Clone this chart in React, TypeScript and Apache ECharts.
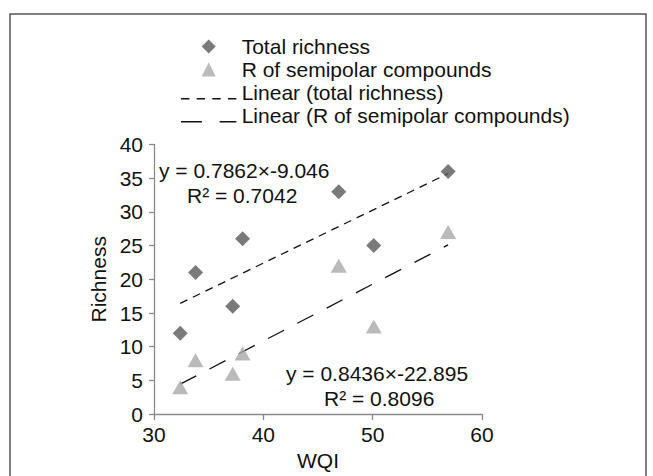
import React, { useEffect, useRef } from "react";
import * as echarts from "echarts";

// Data
const wqi = [32.4, 33.8, 37.2, 38.1, 46.9, 50.1, 56.9];
const totalRichness = [12, 21, 16, 26, 33, 25, 36];
const semipolarRichness = [4, 8, 6, 9, 22, 13, 27];
// Trend line coefficients [slope, intercept] as printed on the chart
const trendTotal = [0.7862, -9.046];
const trendSemipolar = [0.8436, -22.895];
const seriesNames = [
  "Total richness",
  "R of semipolar compounds",
  "Linear (total richness)",
  "Linear (R of semipolar compounds)",
];
const equationLabels = [
  "y = 0.7862×-9.046",
  "R² = 0.7042",
  "y = 0.8436×-22.895",
  "R² = 0.8096",
];
const xTicks = { min: 30, max: 60, interval: 10 };
const yTicks = { min: 0, max: 40, interval: 5 };

const FONT = "'Liberation Sans', Arial, sans-serif";
const FS = 21;

// legend icons (keep aspect); the zero-length segment at the top lowers the dashes to the text baseline
const ICON_DIAMOND = "path://M0,-1L1,0L0,1L-1,0Z";
const ICON_TRIANGLE = "path://M0,-1L1,1L-1,1Z";
const ICON_SHORT_DASH =
  "path://M0,-12L0,-12ZM0,0h8v1.4h-8zM15,0h8v1.4h-8zM30,0h8v1.4h-8zM45,0h8v1.4h-8z";
const ICON_LONG_DASH = "path://M0,-12L0,-12ZM0,0h20v1.4h-20zM37,0h16v1.4h-16z";

export default function App() {
  const ref = useRef<HTMLDivElement>(null);
  useEffect(() => {
    if (!ref.current) return;
    const chart = echarts.init(ref.current, undefined, { renderer: "svg" });
    const xMin = Math.min(...wqi);
    const xMax = Math.max(...wqi);
    const trendPts = (c: number[]) => [
      [xMin, c[0] * xMin + c[1]],
      [xMax, c[0] * xMax + c[1]],
    ];
    const txt = (text: string, x: number, y: number) => ({
      type: "text",
      x,
      y,
      style: { text, font: `${FS}px ${FONT}`, fill: "#111", textVerticalAlign: "middle" },
    });
    chart.setOption({
      animation: false,
      backgroundColor: "#ffffff",
      textStyle: { fontFamily: FONT },
      grid: { left: 154, right: 171, top: 144.5, bottom: 60, containLabel: false },
      legend: {
        orient: "vertical",
        left: 176,
        top: 31,
        itemWidth: 56,
        itemHeight: 14,
        itemGap: 2,
        symbolKeepAspect: true,
        textStyle: { fontFamily: FONT, fontSize: FS, color: "#111" },
        data: [
          { name: seriesNames[0], icon: ICON_DIAMOND, itemStyle: { color: "#595959" } },
          { name: seriesNames[1], icon: ICON_TRIANGLE, itemStyle: { color: "#a9a9a9" } },
          { name: seriesNames[2], icon: ICON_SHORT_DASH, itemStyle: { color: "#111" } },
          { name: seriesNames[3], icon: ICON_LONG_DASH, itemStyle: { color: "#111" } },
        ],
      },
      xAxis: {
        type: "value",
        min: xTicks.min,
        max: xTicks.max,
        interval: xTicks.interval,
        name: "WQI",
        nameLocation: "middle",
        nameGap: 33,
        nameTextStyle: { fontFamily: FONT, fontSize: FS, color: "#111" },
        splitLine: { show: false },
        axisLine: { lineStyle: { color: "#8a8a8a", width: 1.3 } },
        axisTick: { show: true, length: 6, lineStyle: { color: "#8a8a8a", width: 1.3 } },
        axisLabel: { fontFamily: FONT, fontSize: FS, color: "#111", margin: 10 },
      },
      yAxis: {
        type: "value",
        min: yTicks.min,
        max: yTicks.max,
        interval: yTicks.interval,
        name: "Richness",
        nameLocation: "middle",
        nameGap: 45,
        nameRotate: 90,
        nameTextStyle: { fontFamily: FONT, fontSize: FS, color: "#111" },
        splitLine: { show: false },
        axisLine: { show: true, lineStyle: { color: "#8a8a8a", width: 1.3 } },
        axisTick: { show: true, length: 5, lineStyle: { color: "#8a8a8a", width: 1.3 } },
        axisLabel: { fontFamily: FONT, fontSize: FS, color: "#111", margin: 11 },
      },
      series: [
        {
          name: seriesNames[0],
          type: "scatter",
          symbol: "diamond",
          symbolSize: 15,
          itemStyle: { color: "#595959" },
          data: wqi.map((x, i) => [x, totalRichness[i]]),
          z: 3,
        },
        {
          name: seriesNames[1],
          type: "scatter",
          symbol: "triangle",
          symbolSize: [16, 14],
          itemStyle: { color: "#a9a9a9" },
          data: wqi.map((x, i) => [x, semipolarRichness[i]]),
          z: 3,
        },
        {
          name: seriesNames[2],
          type: "line",
          symbol: "none",
          itemStyle: { color: "#111" },
          lineStyle: { color: "#111", width: 1.3, type: [8, 6] },
          data: trendPts(trendTotal),
          z: 2,
        },
        {
          name: seriesNames[3],
          type: "line",
          symbol: "none",
          itemStyle: { color: "#111" },
          lineStyle: { color: "#111", width: 1.3, type: [18, 15] },
          data: trendPts(trendSemipolar),
          z: 2,
        },
      ],
      graphic: [
        {
          type: "rect",
          shape: { x: 10, y: 14, width: 636, height: 480 },
          style: { fill: "none", stroke: "#555", lineWidth: 1.5 },
          silent: true,
          z: -1,
        },
        txt(equationLabels[0], 159, 170),
        txt(equationLabels[1], 187, 195),
        txt(equationLabels[2], 286, 373),
        txt(equationLabels[3], 324, 398),
      ],
    });
    return () => chart.dispose();
  }, []);
  return (
    <div
      ref={ref}
      style={{ position: "fixed", left: 0, top: 0, width: 653, height: 476, background: "#fff" }}
    />
  );
}
